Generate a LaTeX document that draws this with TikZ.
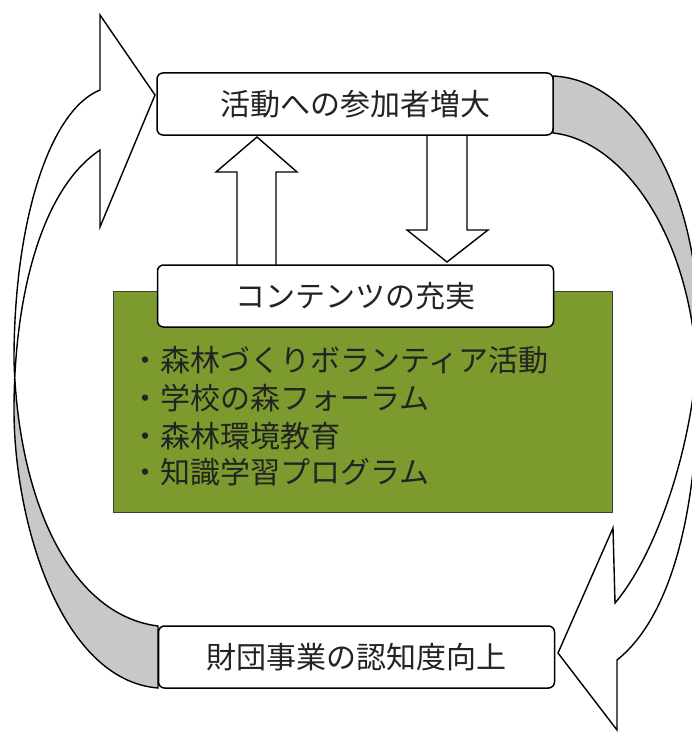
\documentclass[tikz,border=0pt]{standalone}
\usepackage{fontspec}
\newfontfamily\jp{Noto Sans CJK JP}
\definecolor{leaf}{RGB}{124,154,46}
\definecolor{bandgrey}{RGB}{200,200,200}
\definecolor{ink}{RGB}{35,35,35}
\begin{document}
\begin{tikzpicture}[x=1pt,y=-1pt,
  outline/.style={draw=black, line width=1.4pt, line join=miter},
  boxnode/.style={draw=black, line width=1.5pt, rounded corners=6pt, fill=white,
    minimum width=396pt, minimum height=62pt, inner sep=0pt, text=ink,
    font=\jp\fontsize{30}{36}\selectfont},
  listline/.style={anchor=base west, inner sep=0pt, text=ink,
    font=\jp\fontsize{30}{36}\selectfont}]
\useasboundingbox (0,0) rectangle (692,733);
\clip (0,0) rectangle (692,733);
\fill[white] (0,0) rectangle (692,733);

\def\leftloop{(158,626) .. controls (70,615) and (18,500) .. (14,360)
  .. controls (14,220) and (50,110) .. (100,90) -- (100,15) -- (155,95)
  -- (100,227) -- (100,150) .. controls (40,190) and (14,300) .. (14,410)
  .. controls (14,520) and (60,680) .. (158,688) -- cycle}
\def\rightloop{(553,76) .. controls (640,80) and (700,200) .. (698,330)
  .. controls (698,430) and (660,550) .. (615,603) -- (613,528) -- (558,653)
  -- (617,730) -- (617,660) .. controls (680,610) and (700,480) .. (697,370)
  .. controls (690,230) and (620,140) .. (553,133) -- cycle}

% curved arrows
\fill[white] \leftloop;
\begin{scope}
  \clip (0,398) rectangle (200,733);
  \fill[bandgrey] \leftloop;
\end{scope}
\draw[outline] \leftloop;

\fill[white] \rightloop;
\begin{scope}
  \clip (500,0) rectangle (692,355);
  \fill[bandgrey] \rightloop;
\end{scope}
\draw[outline] \rightloop;

% green contents panel
\node[draw=black!75, line width=1pt, fill=leaf, minimum width=499pt,
  minimum height=221pt, inner sep=0pt] (panel) at (362.5,401.5) {};

% block arrows between top box and contents box
\draw[outline, fill=white] (237,266) -- (237,172) -- (216,172) -- (257,137)
  -- (297,172) -- (276,172) -- (276,266);
\draw[outline, fill=white] (427,134) -- (427,230) -- (407,230) -- (447,262)
  -- (488,230) -- (467,230) -- (467,134);

% boxes
\node[boxnode] (top) at (355,104) {活動への参加者増大};
\node[boxnode] (mid) at (355.5,296) {コンテンツの充実};
\node[boxnode] (bottom) at (356.5,657) {財団事業の認知度向上};

% list
\node[listline] (l1) at (130,371) {・森林づくりボランティア活動};
\node[listline] (l2) at (130,409) {・学校の森フォーラム};
\node[listline] (l3) at (130,447) {・森林環境教育};
\node[listline] (l4) at (130,483) {・知識学習プログラム};
\end{tikzpicture}
\end{document}
